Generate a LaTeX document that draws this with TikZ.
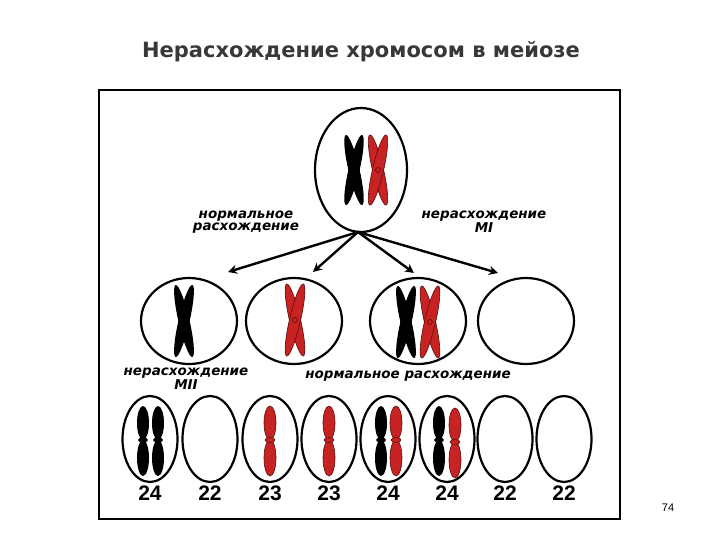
\documentclass[tikz,border=0pt]{standalone}
\usepackage{fontspec}
\setmainfont{Liberation Sans}
\newfontfamily\labfont{DejaVu Sans}
\usetikzlibrary{shapes.geometric,arrows.meta}
\definecolor{cred}{RGB}{200,35,35}
\definecolor{dred}{RGB}{90,10,10}
\tikzset{
 cell/.style={draw,ellipse,line width=2.2pt,inner sep=0pt},
 midcell/.style={cell,minimum width=96pt,minimum height=86pt},
 lowcell/.style={cell,minimum width=55pt,minimum height=86pt},
 arr/.style={line width=2.4pt,-{Stealth[length=9pt,width=9pt]}},
 lab/.style={font=\labfont\bfseries\itshape\fontsize{13.5}{11.5}\selectfont,align=center},
 num/.style={font=\bfseries\fontsize{21}{21}\selectfont},
 blk/.style={fill=black},
 red/.style={fill=cred,draw=dred,line width=0.6pt}
}
\newcommand\xchr[4]{% x y halfheight style
 \path[#4,rotate around={13:(#1,#2)}] (#1,#2) ellipse (5.5 and #3);
 \path[#4,rotate around={-13:(#1,#2)}] (#1,#2) ellipse (5.5 and #3);
 \path[#4] (#1,#2) circle (2.5);}
\newcommand\ichr[3]{% x y style
 \path[#3] (#1,#2-17) ellipse (6 and 17);
 \path[#3] (#1,#2+18) ellipse (6 and 18);
 \path[#3] (#1,#2) ellipse (5 and 2.5);}
\begin{document}
\begin{tikzpicture}[x=1pt,y=-1pt]
\useasboundingbox (0,0) rectangle (720,540);
\draw[line width=1.2pt] (99,90) rectangle (620,519);
\node[font=\labfont\bfseries\fontsize{21}{22}\selectfont,text=black!78] (title) at (361,52) {Нерасхождение хромосом в мейозе};
\node[font=\fontsize{11}{12}\selectfont] (pg) at (668,508) {74};
% top cell
\node[cell,minimum width=92pt,minimum height=124pt] (top) at (361,170) {};
\xchr{354}{170}{36}{blk}
\xchr{378}{170}{36}{red}
% middle cells
\node[midcell] (m1) at (189,321) {};
\node[midcell] (m2) at (294,321) {};
\node[midcell] (m3) at (418,321) {};
\node[midcell] (m4) at (526,321) {};
\xchr{184}{321}{37}{blk}
\xchr{295}{320}{37}{red}
\xchr{406}{322}{37}{blk}
\xchr{430}{322}{37}{red}
% arrows
\coordinate (s) at (358,232);
\coordinate (e1) at (228,272);
\coordinate (e2) at (313,272);
\coordinate (e3) at (414,273);
\coordinate (e4) at (498,273);
\draw[arr] (s) -- (e1);
\draw[arr] (s) -- (e2);
\draw[arr] (s) -- (e3);
\draw[arr] (s) -- (e4);
\node[lab] (l1) at (246,222) {нормальное\\расхождение};
\node[lab] (l2) at (484,222) {нерасхождение\\MI};
\node[lab] (l3) at (186,379) {нерасхождение\\MII};
\node[lab] (l4) at (408,376) {нормальное расхождение};
% bottom cells
\foreach \x/\n/\k in {150/24/1,210/22/2,270/23/3,329/23/4,388/24/5,447/24/6,505/22/7,564/22/8}{
 \node[lowcell] (b\k) at (\x,439) {};
 \node[num] (n\k) at (\x,493) {\n};
}
\ichr{143}{440}{blk}
\ichr{158}{440}{blk}
\ichr{270}{440}{red}
\ichr{329}{440}{red}
\ichr{381}{440}{blk}
\ichr{396}{440}{red}
\ichr{439}{440}{blk}
\ichr{455}{442}{red}
\end{tikzpicture}
\end{document}
